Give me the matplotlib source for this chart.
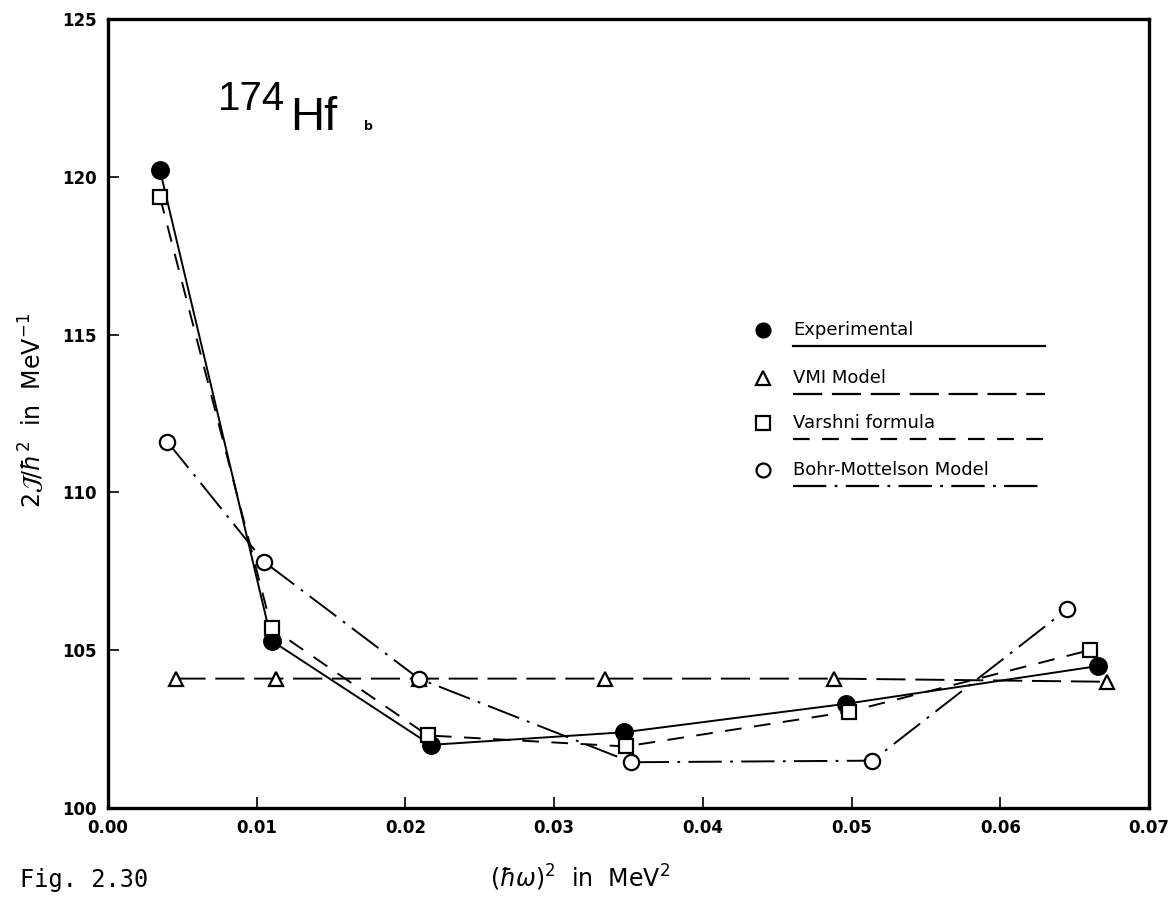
import matplotlib
matplotlib.use("Agg")
import matplotlib.pyplot as plt

# values, (hbar omega)^2 in MeV^2 vs 2J/hbar^2 in MeV^-1
x_exp = [0.0035, 0.0110, 0.0217, 0.0347, 0.0496, 0.0666]
y_exp = [120.2, 105.3, 102.0, 102.4, 103.3, 104.5]

x_vmi = [0.0046, 0.0113, 0.0209, 0.0334, 0.0488, 0.0672]
y_vmi = [104.1, 104.1, 104.1, 104.1, 104.1, 104.0]

x_var = [0.0035, 0.0110, 0.0215, 0.0348, 0.0498, 0.0660]
y_var = [119.35, 105.7, 102.3, 101.95, 103.05, 105.0]

x_bm = [0.0040, 0.0105, 0.0209, 0.0352, 0.0514, 0.0645]
y_bm = [111.6, 107.8, 104.1, 101.45, 101.5, 106.3]

labels = ["Experimental", "VMI Model", "Varshni formula", "Bohr-Mottelson Model"]
xticks = [0.00, 0.01, 0.02, 0.03, 0.04, 0.05, 0.06, 0.07]
yticks = [100, 105, 110, 115, 120, 125]

plt.rcParams['lines.scale_dashes'] = False
plt.rcParams['font.family'] = ['DejaVu Sans']

fig = plt.figure(figsize=(11.76, 9.09), dpi=100)
ax = fig.add_axes([108/1176, 1 - 808/909, 1041/1176, 789/909])

lw = 1.4
styles = [
    dict(marker='o', mfc='black', ls='-', dashes=None),
    dict(marker='^', mfc='white', ls='--', dashes=(21, 7)),
    dict(marker='s', mfc='white', ls='--', dashes=(12, 9)),
    dict(marker='o', mfc='white', ls='-.', dashes=(24, 6, 2, 6)),
]
series = [(x_exp, y_exp), (x_vmi, y_vmi), (x_var, y_var), (x_bm, y_bm)]
sizes = [12, 10, 10, 11]

for (xs, ys), st, ms in zip(series, styles, sizes):
    line, = ax.plot(xs, ys, color='black', lw=lw, linestyle=st['ls'],
                    marker=st['marker'], markersize=ms, mfc=st['mfc'],
                    mec='black', mew=1.6, zorder=3)
    if st['dashes'] is not None:
        line.set_dashes(st['dashes'])

ax.set_xlim(0, 0.07)
ax.set_ylim(100, 125)
ax.set_xticks(xticks)
ax.set_xticklabels(["%.2f" % t for t in xticks])
ax.set_yticks(yticks)
ax.tick_params(direction='in', length=8, width=1.2, labelsize=12, pad=8)
for lab in ax.get_xticklabels() + ax.get_yticklabels():
    lab.set_fontweight('bold')
for sp in ax.spines.values():
    sp.set_linewidth(2.4)

# hand-made legend with underlined labels
mk_x, txt_x, end_x = 0.629, 0.658, 0.900
rows = [0.606, 0.545, 0.488, 0.428]
for lab, st, yr in zip(labels, styles, rows):
    ax.plot([mk_x], [yr], transform=ax.transAxes, marker=st['marker'],
            markersize=10, mfc=st['mfc'], mec='black', mew=1.6, color='black',
            clip_on=False)
    ax.text(txt_x, yr, lab, transform=ax.transAxes, fontsize=13,
            va='center', ha='left')
    ul, = ax.plot([txt_x, end_x], [yr - 0.02, yr - 0.02], transform=ax.transAxes,
                  color='black', lw=1.6, linestyle=st['ls'])
    if st['dashes'] is not None:
        ul.set_dashes(st['dashes'])

# nucleus label
ax.text(0.1057, 0.885, "174", transform=ax.transAxes, fontsize=29,
        family='Liberation Sans', va='baseline', ha='left')
ax.text(0.175, 0.859, "Hf", transform=ax.transAxes, fontsize=34,
        family='Liberation Sans', va='baseline', ha='left')
ax.text(0.246, 0.859, "b", transform=ax.transAxes, fontsize=9,
        fontweight='bold', va='baseline', ha='left')

fig.text(580/1176, 1 - 878/909, r"$(\hbar\omega)^2$  in  MeV$^2$",
         fontsize=17, ha='center', va='center')
fig.text(32/1176, 1 - 410/909, r"$2\mathcal{J}/\hbar^2$  in  MeV$^{-1}$",
         fontsize=17, rotation=90, ha='center', va='center')
fig.text(20/1176, 1 - 880/909, "Fig. 2.30", fontsize=17,
         family='DejaVu Sans Mono', ha='left', va='center')

fig.savefig("out.png", dpi=100)
